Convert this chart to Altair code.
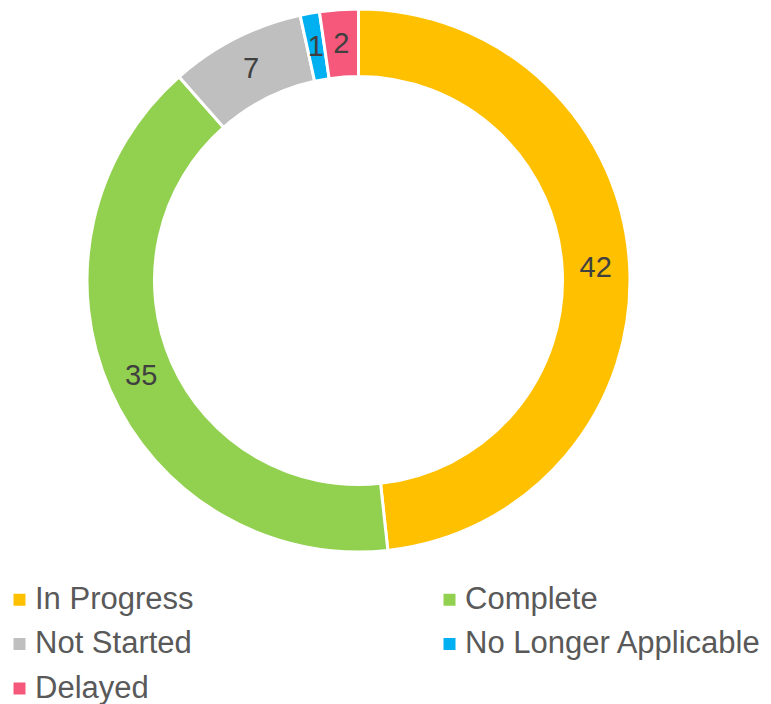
import altair as alt
import pandas as pd

categories = ["In Progress", "Complete", "Not Started", "No Longer Applicable", "Delayed"]
values = [42, 35, 7, 1, 2]
colors = ["#FFC000", "#92D050", "#BFBFBF", "#00B0F0", "#F5587B"]
# legend is filled column by column: reorder so it reads row by row like the reference
legend_order = ["In Progress", "Not Started", "Delayed", "Complete", "No Longer Applicable"]

df = pd.DataFrame({"status": categories, "count": values, "idx": list(range(len(categories)))})
color_map = dict(zip(categories, colors))

FONT = "Liberation Sans, Arial, sans-serif"
cx, cy = 350.5, 272.5

base = alt.Chart(df).encode(
    theta=alt.Theta("count:Q", stack=True),
    order=alt.Order("idx:O"),
    x=alt.value(cx),
    y=alt.value(cy),
)

arc = base.mark_arc(innerRadius=204, outerRadius=271.5, stroke="white", strokeWidth=3).encode(
    color=alt.Color(
        "status:N",
        scale=alt.Scale(domain=legend_order, range=[color_map[c] for c in legend_order]),
        legend=alt.Legend(
            title=None,
            orient="none",
            legendX=-4,
            legendY=576,
            columns=2,
            columnPadding=240,
            rowPadding=12.5,
            symbolType="square",
            symbolSize=144,
            symbolStrokeWidth=0,
            labelFont=FONT,
            labelFontSize=31,
            labelColor="#595959",
            labelOffset=0,
            labelLimit=400,
        ),
    )
)

text = base.mark_text(radius=237.5, font=FONT, fontSize=29, color="#404040").encode(
    text=alt.Text("count:Q")
)

chart = (
    alt.layer(arc, text)
    .properties(width=755, height=696, autosize=alt.AutoSizeParams(type="none"), padding=0)
    .configure_view(stroke=None)
)

chart.save("out.html", embed_options={"renderer": "svg", "actions": False})
